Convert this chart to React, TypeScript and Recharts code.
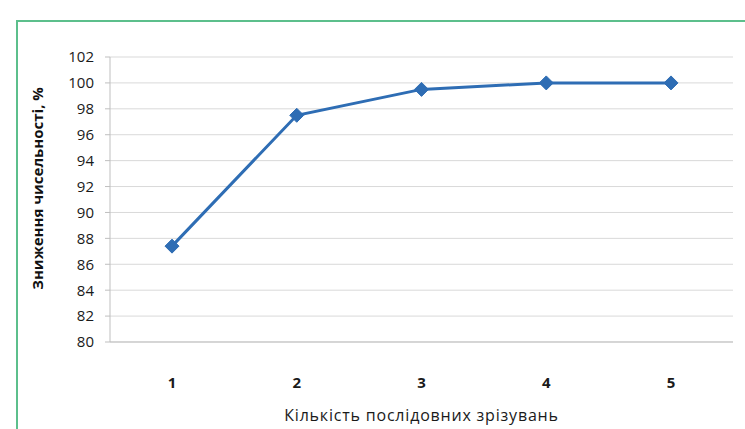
import { CartesianGrid, Line, LineChart, XAxis, YAxis } from 'recharts'

const cuts = ['1', '2', '3', '4', '5']
const reduction = [87.4, 97.5, 99.5, 100, 100]
const yTicks = [80, 82, 84, 86, 88, 90, 92, 94, 96, 98, 100, 102]

const chartData = cuts.map((cut, i) => ({ cut, value: reduction[i] }))

const font = '"Open Sans", "Noto Sans", sans-serif'
const lineBlue = '#2e6db4'

const Diamond = (props: { cx?: number; cy?: number }) => {
  const { cx, cy } = props
  if (cx == null || cy == null) return null
  const r = 7
  return (
    <polygon
      points={`${cx},${cy - r} ${cx + r},${cy} ${cx},${cy + r} ${cx - r},${cy}`}
      fill={lineBlue}
      stroke={lineBlue}
    />
  )
}

// y title sits a bit above the plot middle, like the original
const YTitle = (props: { viewBox?: { x: number; y: number; height: number } }) => {
  const vb = props.viewBox
  if (!vb) return null
  const x = vb.x + 17
  const y = vb.y + vb.height / 2 - 11
  return (
    <text
      x={x}
      y={y}
      transform={`rotate(-90, ${x}, ${y})`}
      textAnchor="middle"
      dominantBaseline="central"
      fill="#111"
      fontSize={15}
      fontWeight={700}
      fontFamily={font}
    >
      Зниження чисельності, %
    </text>
  )
}

export default function App() {
  return (
    <div
      style={{
        position: 'absolute',
        left: 0,
        top: 0,
        width: 745,
        height: 429,
        overflow: 'hidden',
        background: '#fff',
      }}
    >
      <div
        style={{
          position: 'absolute',
          left: 16,
          top: 20,
          width: 740,
          height: 480,
          border: '2px solid #5cbf8c',
        }}
      />
      <div style={{ position: 'absolute', left: 0, top: 0 }}>
        <LineChart
          width={745}
          height={429}
          data={chartData}
          margin={{ top: 57, right: 12, left: 20, bottom: 0 }}
        >
          <CartesianGrid vertical={false} stroke="#d9d9d9" />
          <XAxis
            dataKey="cut"
            height={87}
            padding={{ left: 62, right: 62 }}
            axisLine={{ stroke: '#bfbfbf' }}
            tickLine={false}
            tickSize={0}
            tickMargin={35}
            tick={{ fill: '#1a1a1a', fontSize: 15, fontWeight: 700, fontFamily: font }}
            label={{
              value: 'Кількість послідовних зрізувань',
              position: 'insideBottom',
              offset: 8,
              fill: '#1a1a1a',
              fontSize: 16,
              letterSpacing: 0.8,
              fontFamily: font,
            }}
          />
          <YAxis
            domain={[80, 102]}
            ticks={yTicks}
            interval={0}
            width={90}
            axisLine={{ stroke: '#bfbfbf' }}
            tickLine={{ stroke: '#bfbfbf' }}
            tickSize={5}
            tickMargin={11}
            tick={{ fill: '#1a1a1a', fontSize: 15, fontFamily: font }}
            label={<YTitle />}
          />
          <Line
            type="linear"
            dataKey="value"
            stroke={lineBlue}
            strokeWidth={3}
            dot={<Diamond />}
            activeDot={false}
            isAnimationActive={false}
          />
        </LineChart>
      </div>
    </div>
  )
}
